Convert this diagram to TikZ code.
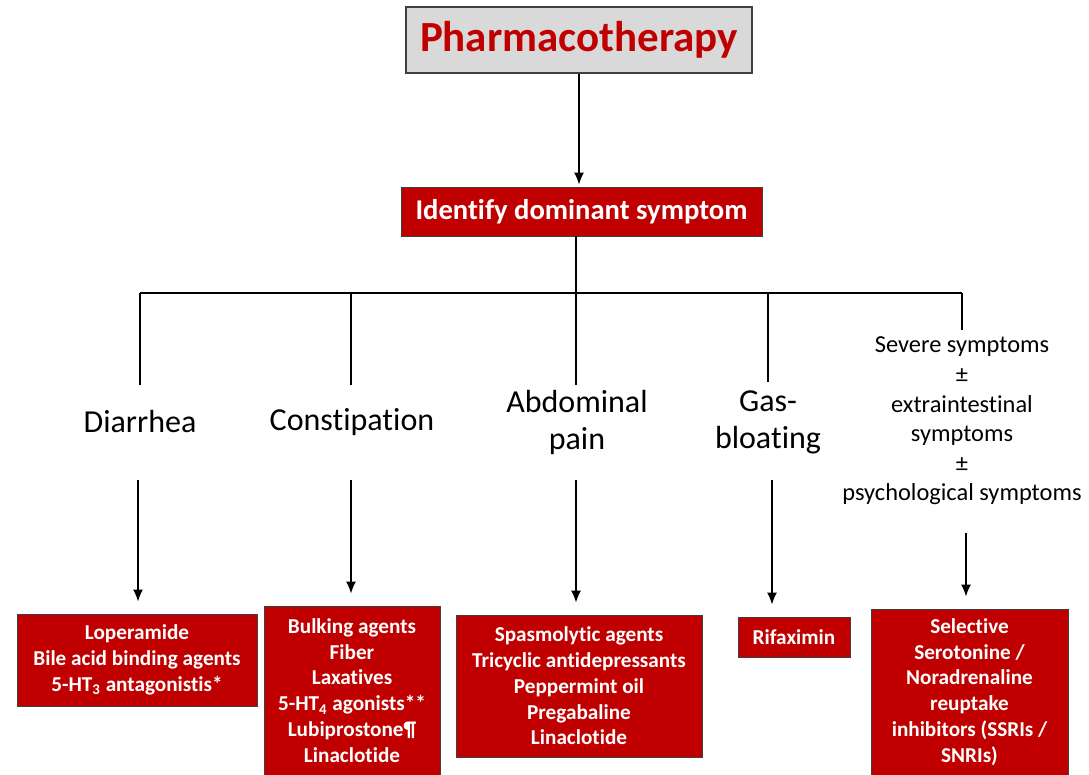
\documentclass[tikz,border=0pt]{standalone}
\usepackage{fontspec}
\setmainfont{Carlito}[Ligatures=NoCommon]
\usetikzlibrary{arrows.meta,positioning,calc}
\definecolor{boxred}{RGB}{192,0,0}
\definecolor{boxgray}{RGB}{217,217,217}

\begin{document}
\begin{tikzpicture}[x=0.5pt,y=-0.5pt]

\tikzset{drug/.style = {shape=rectangle,draw=black!75,fill=boxred,text=white,font=\fontsize{10.6}{12.9}\selectfont\bfseries,align=center,inner sep=0pt}}
\tikzset{symp/.style = {align=center,font=\fontsize{16}{18.5}\selectfont}}
\tikzset{edge1/.style = {-{Latex[length=6pt,width=5pt]},line width=0.8pt,shorten >=6pt}}
\tikzset{edge0/.style = {line width=0.8pt}}

\useasboundingbox (0,0) rectangle (1089,775);

% vertices
\node[draw=black!75,fill=boxgray,line width=0.8pt,minimum width=173pt,minimum height=33pt,
  text=boxred,font=\fontsize{21.5}{24}\selectfont\bfseries] (pharm) at (579,40) {Pharmacotherapy};
\node[drug,minimum width=180.5pt,minimum height=24.5pt,font=\fontsize{14.3}{16}\selectfont\bfseries]
  (ident) at (581.5,211.5) {Identify dominant symptom};

\node[symp] (diar) at (140,422) {Diarrhea};
\node[symp] (const) at (352,422) {Constipation};
\node[symp] (abdo) at (577,422) {Abdominal\\pain};
\node[symp] (gas) at (768,422) {Gas-\\bloating};
\node[symp,font=\fontsize{12.2}{14.8}\selectfont] (severe) at (962,421)
  {Severe symptoms\\±\\extraintestinal\\symptoms\\±\\psychological symptoms};

\node[drug,minimum width=120pt,minimum height=46pt] (lop) at (137,660)
  {Loperamide\\Bile acid binding agents\\5-HT\textsubscript{3} antagonistis*};
\node[drug,minimum width=88pt,minimum height=84.5pt] (bulk) at (352,690.5)
  {Bulking agents\\Fiber\\Laxatives\\5-HT\textsubscript{4} agonists**\\Lubiprostone¶\\Linaclotide};
\node[drug,minimum width=123pt,minimum height=71pt] (spas) at (579,686)
  {Spasmolytic agents\\Tricyclic antidepressants\\Peppermint oil\\Pregabaline\\Linaclotide};
\node[drug,minimum width=56pt,minimum height=20pt] (rifa) at (794,637) {Rifaximin};
\node[drug,minimum width=98.5pt,minimum height=83pt] (ssri) at (969.5,692)
  {Selective\\Serotonine /\\Noradrenaline\\reuptake\\inhibitors (SSRIs /\\SNRIs)};

% tree
\coordinate (bar) at (576,293);
\coordinate (barL) at (140,293);
\coordinate (barR) at (962,293);
\coordinate (dtop) at (140,385);
\coordinate (ctop) at (351,385);
\coordinate (atop) at (576,385);
\coordinate (gtop) at (768,382);
\coordinate (stop) at (962,330);

\coordinate (dout) at (138,480);
\coordinate (cout) at (351,480);
\coordinate (aout) at (576,480);
\coordinate (gout) at (772,480);
\coordinate (sout) at (966,533);

%edges
\draw[edge1,shorten >=1pt] (pharm.south) to (pharm.south |- ident.north);
\draw[edge0] (ident.south -| bar) -- (bar);
\draw[edge0] (barL) -- (barR);
\draw[edge0] (barL) -- (dtop);
\draw[edge0] (ctop |- bar) -- (ctop);
\draw[edge0] (bar) -- (atop);
\draw[edge0] (gtop |- bar) -- (gtop);
\draw[edge0] (barR) -- (stop);

\draw[edge1] (dout) to (dout |- lop.north);
\draw[edge1] (cout) to (cout |- bulk.north);
\draw[edge1] (aout) to (aout |- spas.north);
\draw[edge1] (gout) to (gout |- rifa.north);
\draw[edge1] (sout) to (sout |- ssri.north);

\end{tikzpicture}
\end{document}
